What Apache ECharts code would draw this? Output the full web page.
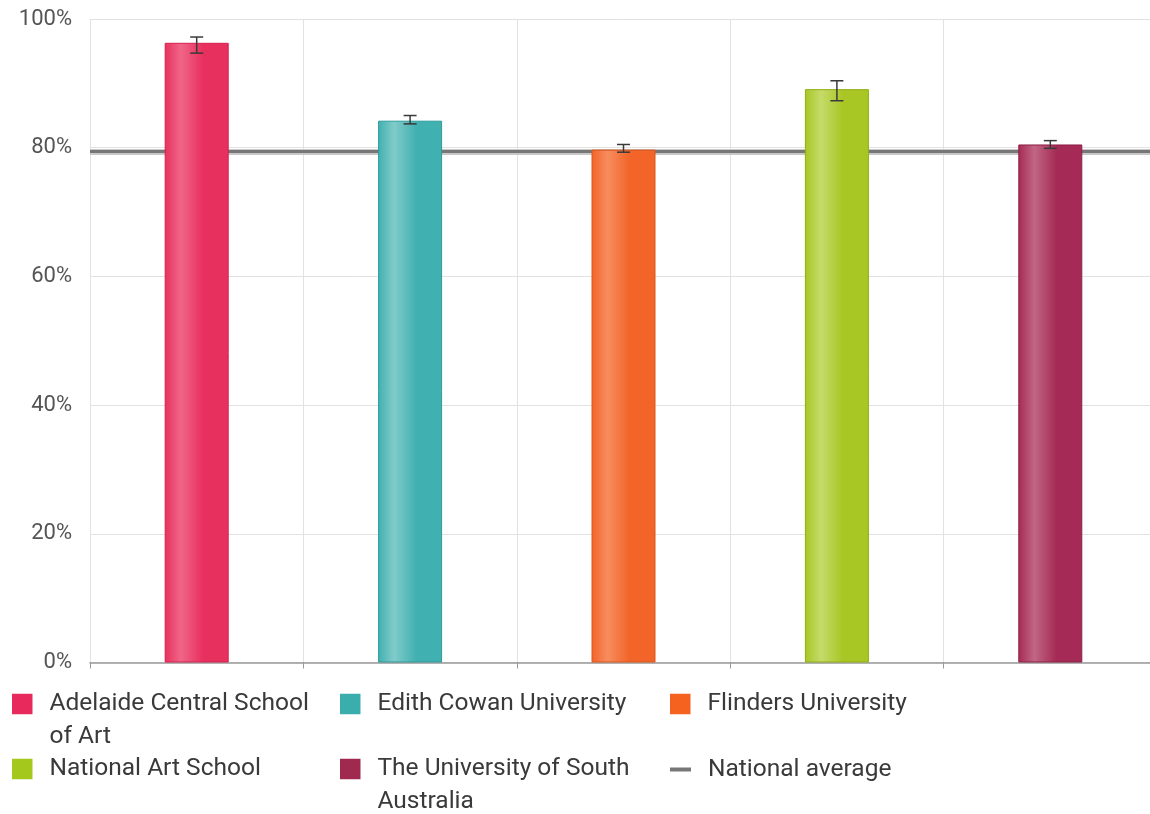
<!DOCTYPE html>
<html>
<head>
<meta charset="utf-8">
<script src="https://cdn.jsdelivr.net/npm/echarts@6/dist/echarts.min.js"></script>
<style>
  html, body { margin: 0; padding: 0; background: #fff; }
  #chart { width: 1150px; height: 814px; }
</style>
</head>
<body>
<div id="chart"></div>
<script>
// ---- data ----
var categories = ['Adelaide Central School of Art', 'Edith Cowan University', 'Flinders University', 'National Art School', 'The University of South Australia'];
var values = [96.3, 84.2, 79.7, 89.1, 80.5];
var errLow = [94.7, 83.7, 79.3, 87.3, 79.9];
var errHigh = [97.2, 85.0, 80.5, 90.4, 81.1];
var nationalAverage = 79.4;
var averageName = 'National average';
var yMin = 0, yMax = 100, yInterval = 20;

// ---- styles ----
var baseColors = ['#e8305e', '#41b0b0', '#f26428', '#a8c624', '#a52a55'];
var lightColors = ['#f06688', '#80cbca', '#f78d5e', '#c5db6a', '#c16684'];
var borderColors = ['#d61e4e', '#2f9a9a', '#e05518', '#90ae10', '#8e1d45'];
var legendColors = ['#e8295c', '#3aadad', '#f5621f', '#a5c81d', '#a0294f'];

function grad(i) {
  return new echarts.graphic.LinearGradient(0, 0, 1, 0, [
    { offset: 0, color: baseColors[i] },
    { offset: 0.25, color: lightColors[i] },
    { offset: 0.6, color: baseColors[i] },
    { offset: 1, color: baseColors[i] }
  ]);
}

var series = categories.map(function (name, i) {
  return {
    name: name,
    type: 'bar',
    z: 2,
    barWidth: 64,
    barGap: '-100%',
    itemStyle: { color: grad(i), borderColor: borderColors[i], borderWidth: 1 },
    data: categories.map(function (c, j) { return j === i ? values[i] : '-'; })
  };
});

series.push({
  name: averageName,
  type: 'line',
  data: [],
  itemStyle: { color: '#777' },
  lineStyle: { color: '#777' },
  markLine: {
    z: 1,
    silent: true,
    symbol: 'none',
    label: { show: false },
    emphasis: { disabled: true },
    data: [
      { yAxis: nationalAverage, lineStyle: { color: '#c8c8c8', width: 6, type: 'solid' } },
      { yAxis: nationalAverage, lineStyle: { color: '#777777', width: 3, type: 'solid' } }
    ]
  }
});

series.push({
  type: 'custom',
  name: 'error',
  z: 5,
  silent: true,
  renderItem: function (params, api) {
    var x = api.value(0);
    var lo = api.coord([x, api.value(1)]);
    var hi = api.coord([x, api.value(2)]);
    var hw = 6.5;
    var st = { stroke: '#3a3a3a', lineWidth: 1.5 };
    return {
      type: 'group',
      children: [
        { type: 'line', shape: { x1: lo[0], y1: lo[1], x2: hi[0], y2: hi[1] }, style: st },
        { type: 'line', shape: { x1: hi[0] - hw, y1: hi[1], x2: hi[0] + hw, y2: hi[1] }, style: st },
        { type: 'line', shape: { x1: lo[0] - hw, y1: lo[1], x2: lo[0] + hw, y2: lo[1] }, style: st }
      ]
    };
  },
  encode: { x: 0, y: [1, 2] },
  data: categories.map(function (c, i) { return [i, errLow[i], errHigh[i]]; })
});

// ---- legends (one per item to reproduce the column layout) ----
var font = 'Roboto, "Noto Sans", sans-serif';
var lgFont = 24.5, lgLine = 33, lgWidth = 272;
var legendPos = [
  { left: 12, iconTop: 693, twoLine: true },
  { left: 340, iconTop: 693, twoLine: false },
  { left: 670, iconTop: 693, twoLine: false },
  { left: 12, iconTop: 758, twoLine: false },
  { left: 340, iconTop: 758, twoLine: true }
];
var legends = categories.map(function (name, i) {
  var p = legendPos[i];
  // two-line labels: prefix an empty line so the first real line sits beside the icon
  var top = p.twoLine ? p.iconTop + 10 - lgLine * 1.5 : p.iconTop + 10 - lgLine / 2;
  return {
    left: p.left,
    top: top + 1,
    padding: 0,
    selectedMode: false,
    icon: 'rect',
    itemWidth: 20.5,
    itemHeight: 20.5,
    itemStyle: { color: legendColors[i], borderWidth: 0 },
    formatter: p.twoLine ? function (n) { return '\n' + n; } : '{name}',
    textStyle: {
      fontFamily: font, fontSize: lgFont, lineHeight: lgLine, color: '#3a3a3a',
      width: lgWidth, overflow: 'break',
      padding: [0, 0, 0, 12]
    },
    data: [name]
  };
});
legends.push({
  left: 670,
  top: 768.5 - lgLine / 2 + 1,
  padding: 0,
  selectedMode: false,
  icon: 'rect',
  itemWidth: 21,
  itemHeight: 4,
  itemStyle: { color: '#777777', borderWidth: 0 },
  lineStyle: { width: 0 },
  textStyle: { fontFamily: font, fontSize: lgFont, lineHeight: lgLine, color: '#3a3a3a', padding: [0, 0, 0, 12] },
  data: [averageName]
});

var chart = echarts.init(document.getElementById('chart'), null, { renderer: 'canvas' });
chart.setOption({
  animation: false,
  backgroundColor: '#fff',
  textStyle: { fontFamily: font },
  grid: { left: 90, top: 19, right: -7, height: 643.5, containLabel: false, outerBoundsMode: 'none' },
  legend: legends,
  xAxis: {
    type: 'category',
    data: categories,
    boundaryGap: true,
    axisLabel: { show: false, interval: 0 },
    axisLine: { lineStyle: { color: '#999', width: 1.5 } },
    axisTick: { show: true, interval: 0, length: 6, lineStyle: { color: '#999' } },
    splitLine: { show: true, interval: 0, lineStyle: { color: '#e2e2e2', width: 1 } }
  },
  yAxis: {
    type: 'value',
    min: yMin, max: yMax, interval: yInterval,
    axisLine: { show: false },
    axisTick: { show: false },
    axisLabel: { formatter: '{value}%', fontFamily: font, fontSize: 22, color: '#555', margin: 18 },
    splitLine: { lineStyle: { color: '#e2e2e2', width: 1 } }
  },
  series: series
});
</script>
</body>
</html>
